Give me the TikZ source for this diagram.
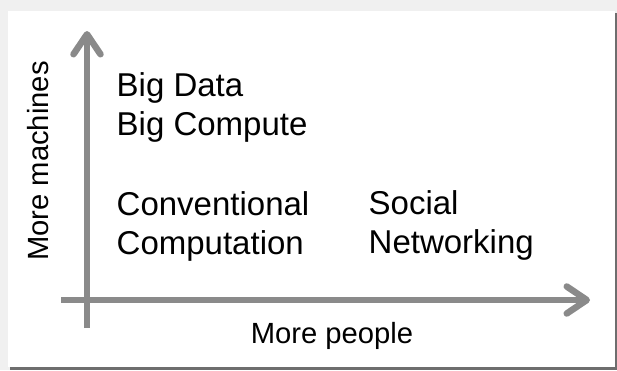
\documentclass[tikz,border=0pt]{standalone}
\usepackage{fontspec}
\setmainfont{Liberation Sans}
\usetikzlibrary{arrows.meta}
\definecolor{axisgray}{HTML}{8A8A8A}
\definecolor{bggray}{HTML}{F0F0F0}
\definecolor{shadowgray}{HTML}{6E6E6E}
\tikzset{
  axis/.style={draw=axisgray, line width=6.5pt,
    -{Straight Barb[length=20pt,width=27pt,line width=6.5pt,round]}},
  bigtext/.style={inner sep=0pt, align=left, font=\fontsize{33}{39}\selectfont},
  axislabel/.style={inner sep=0pt, font=\fontsize{29.2}{34}\selectfont},
}
\begin{document}
\begin{tikzpicture}[x=1pt, y=-1pt]
  \useasboundingbox (0,0) rectangle (617,370);
  \fill[bggray] (0,0) rectangle (617,370);
  \fill[shadowgray] (10,13) rectangle (617,370);
  \fill[white] (8,11) rectangle (615,367);
  % axes
  \coordinate (yb) at (87,328);
  \coordinate (yt) at (87,31);
  \coordinate (xl) at (61,300);
  \coordinate (xr) at (590,300);
  \draw[axis] (yb) -- (yt);
  \draw[axis] (xl) -- (xr);
  % texts
  \node[bigtext, anchor=north west] (bd) at (116.5,72) {Big Data\\Big Compute};
  \node[bigtext, anchor=north west] (cc) at (116.5,191.5) {Conventional\\Computation};
  \node[bigtext, anchor=north west] (sn) at (368.5,190) {Social\\Networking};
  \node[axislabel, anchor=base] (mp) at (332,343) {More people};
  \node[axislabel, anchor=base, rotate=90] (mm) at (48,161) {More machines};
\end{tikzpicture}
\end{document}
